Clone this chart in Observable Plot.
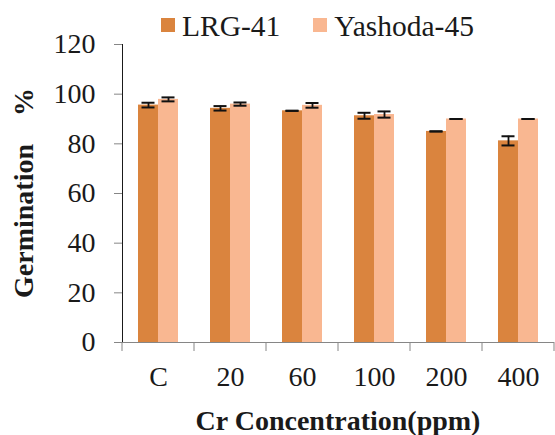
<!DOCTYPE html>
<html>
<head>
<meta charset="utf-8">
<script src="https://cdn.jsdelivr.net/npm/d3@7"></script>
<script src="https://cdn.jsdelivr.net/npm/@observablehq/plot@0.6"></script>
<style>
  html, body { margin: 0; padding: 0; background: white; }
  #wrap { position: relative; width: 555px; height: 435px; }
  #legend { position: absolute; left: 161px; top: 11px; display: flex; align-items: center;
            font-family: "Liberation Serif", "Times New Roman", serif; font-size: 29.5px; line-height: 30px; color: #1a1a1a; z-index: 2; }
  .sw { width: 14px; height: 14px; margin-right: 7px; margin-top: -2px; }
  .item { display: flex; align-items: center; }
  .item + .item { margin-left: 33px; }
</style>
</head>
<body>
<div id="wrap"><div id="legend"></div></div>
<script>
const concentrations = ["C", "20", "60", "100", "200", "400"];
const varieties = ["LRG-41", "Yashoda-45"];
const colors = ["#DA843E", "#F9B791"];
const lrg = [95.6, 94.3, 93.3, 91.3, 85.0, 81.2];
const yashoda = [97.9, 96.0, 95.5, 91.8, 90.0, 90.0];
const lrgErr = [0.95, 0.9, 0, 1.2, 0, 1.85];
const yashodaErr = [0.8, 0.65, 0.95, 1.25, 0, 0];
const yTicks = [0, 20, 40, 60, 80, 100, 120];

const FONT = "'Liberation Serif', 'Times New Roman', serif";

const data = [];
concentrations.forEach((c, i) => {
  data.push({conc: c, variety: varieties[0], value: lrg[i], err: lrgErr[i]});
  data.push({conc: c, variety: varieties[1], value: yashoda[i], err: yashodaErr[i]});
});

const chart = Plot.plot({
  width: 555,
  height: 435,
  marginLeft: 121,
  marginRight: 0,
  marginTop: 44,
  marginBottom: 93,
  style: {fontFamily: FONT, fontSize: "28px", color: "#1a1a1a", background: "white", overflow: "visible"},
  facet: {data, x: "conc"},
  fx: {domain: concentrations, padding: 0, paddingInner: 0, paddingOuter: 0, axis: "bottom", label: null, tickSize: 0, tickPadding: 24},
  x: {domain: varieties, paddingInner: 0, paddingOuter: 0.76, axis: null},
  y: {domain: [0, 120], ticks: yTicks, tickSize: 8, tickPadding: 19, line: true, label: null},
  color: {domain: varieties, range: colors},
  marks: [
    Plot.barY(data, {x: "variety", y: "value", fill: "variety"}),
    Plot.ruleX(data, {x: "variety", y1: d => d.value - d.err, y2: d => d.value + d.err, stroke: "#111", strokeWidth: 1.8}),
    Plot.tickY(data, {x: "variety", y: d => d.value - d.err, stroke: "#111", strokeWidth: 2, insetLeft: 3.5, insetRight: 3.5}),
    Plot.tickY(data, {x: "variety", y: d => d.value + d.err, stroke: "#111", strokeWidth: 2, insetLeft: 3.5, insetRight: 3.5}),
    Plot.ruleY([0], {stroke: "#868686", strokeWidth: 1})
  ]
});

const svg = d3.select(chart);
svg.selectAll("text").style("font-family", FONT);
// grey axis lines / ticks
svg.selectAll("[aria-label*='axis'] path, [aria-label*='axis'] line").attr("stroke", "#868686");

// category boundary tick marks on the x axis (Excel style)
const fx = chart.scale("fx");
const ys = chart.scale("y");
const y0 = ys.apply(0);
const bounds = concentrations.map(c => fx.apply(c)).concat([fx.apply(concentrations[concentrations.length - 1]) + fx.bandwidth]);
svg.append("g").attr("aria-label", "x boundary ticks")
  .selectAll("line").data(bounds).join("line")
  .attr("x1", d => d).attr("x2", d => d)
  .attr("y1", y0).attr("y2", y0 + 9)
  .attr("stroke", "#868686").attr("stroke-width", 1);

// axis titles
const r = fx.range;
svg.append("text")
  .attr("x", (r[0] + r[1]) / 2).attr("y", 430)
  .attr("text-anchor", "middle").attr("font-weight", "bold").attr("font-size", 28)
  .attr("fill", "#1a1a1a").style("font-family", FONT)
  .text("Cr Concentration(ppm)");
const yr = ys.range;
svg.append("text")
  .attr("transform", `translate(33,${(yr[0] + yr[1]) / 2}) rotate(-90)`)
  .attr("text-anchor", "middle").attr("font-weight", "bold").attr("font-size", 28)
  .attr("fill", "#1a1a1a").style("white-space", "pre").style("font-family", FONT)
  .text("Germination    %");

document.getElementById("wrap").appendChild(chart);

// legend
const legend = d3.select("#legend");
varieties.forEach((v, i) => {
  const it = legend.append("div").attr("class", "item");
  it.append("div").attr("class", "sw").style("background", colors[i]);
  it.append("span").text(v);
});
</script>
</body>
</html>
